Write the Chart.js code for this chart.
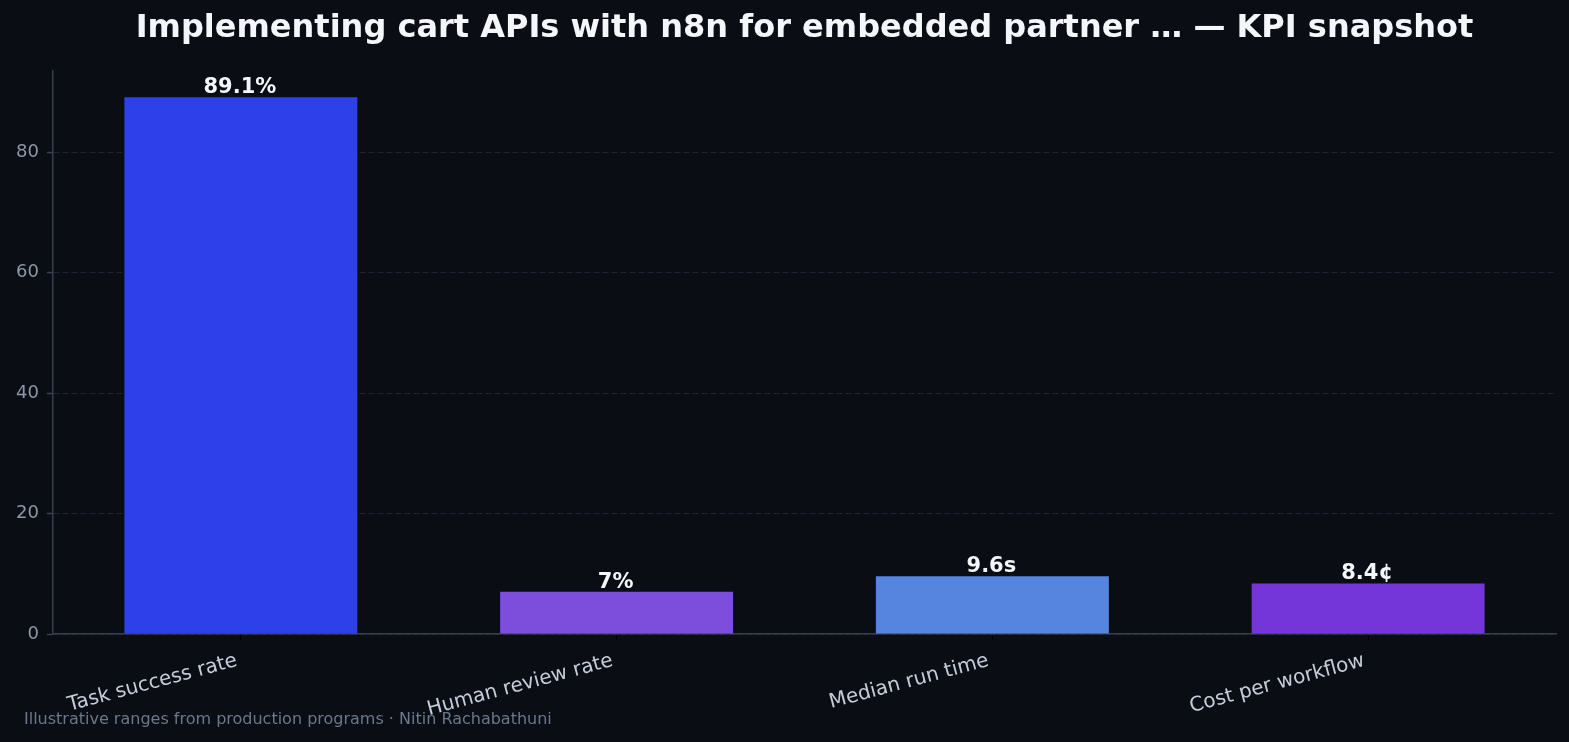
<!DOCTYPE html>
<html>
<head>
<meta charset="utf-8">
<script src="https://cdn.jsdelivr.net/npm/chart.js@4.4.1/dist/chart.umd.min.js"></script>
<style>
  html, body { margin: 0; padding: 0; background: #0a0d14; }
  #wrap { width: 1569px; height: 742px; }
</style>
</head>
<body>
<div id="wrap"><canvas id="kpiChart" width="1569" height="742"></canvas></div>
<script>
// ===== Data =====
const categories = ["Task success rate", "Human review rate", "Median run time", "Cost per workflow"];
const kpiValues = [89.1, 7, 9.6, 8.4];
const valueLabels = ["89.1%", "7%", "9.6s", "8.4¢"];
const barColors = ["#2e40ea", "#7d4ddb", "#5685e0", "#7436d9"];
const yTickStep = 20;

const FONT = "'DejaVu Sans', sans-serif";

// value labels above each bar
const barLabels = {
    id: 'barLabels',
    afterDatasetsDraw(chart) {
        const ctx = chart.ctx;
        const meta = chart.getDatasetMeta(0);
        ctx.save();
        ctx.font = `bold 21px ${FONT}`;
        ctx.fillStyle = '#f4f6fa';
        ctx.textAlign = 'center';
        ctx.textBaseline = 'alphabetic';
        meta.data.forEach((bar, i) => {
            ctx.fillText(valueLabels[i], bar.x - 1, bar.y - 4);
        });
        ctx.restore();
    }
};

// footer note
const footerNote = {
    id: 'footerNote',
    afterDraw(chart) {
        const ctx = chart.ctx;
        ctx.save();
        ctx.font = `16px ${FONT}`;
        ctx.fillStyle = '#6b778b';
        ctx.textAlign = 'left';
        ctx.textBaseline = 'alphabetic';
        ctx.fillText("Illustrative ranges from production programs · Nitin Rachabathuni", 24, 724);
        ctx.restore();
    }
};

const bgFill = {
    id: 'bgFill',
    beforeDraw(chart) {
        const ctx = chart.ctx;
        ctx.save();
        ctx.fillStyle = '#0a0d14';
        ctx.fillRect(0, 0, chart.width, chart.height);
        ctx.restore();
    }
};

new Chart(document.getElementById('kpiChart'), {
    type: 'bar',
    data: {
        labels: categories,
        datasets: [{
            data: kpiValues,
            backgroundColor: barColors,
            borderWidth: 0,
            barPercentage: 0.62,
            categoryPercentage: 1.0
        }]
    },
    options: {
        responsive: false,
        animation: false,
        layout: { padding: { left: 0, right: 13, top: 0, bottom: 0 } },
        plugins: {
            legend: { display: false },
            tooltip: { enabled: false },
            title: {
                display: true,
                fullSize: false,
                text: "Implementing cart APIs with n8n for embedded partner … — KPI snapshot",
                color: '#f4f6fa',
                font: { family: FONT, size: 32, weight: 'bold', lineHeight: 1.2 },
                padding: { top: 9, bottom: 23 }
            }
        },
        scales: {
            x: {
                offset: true,
                grid: { display: true, offset: false, drawOnChartArea: false, drawTicks: true, tickLength: 6, tickColor: '#000000' },
                border: { display: true, color: '#363e4e', width: 1.5 },
                ticks: {
                    color: '#c6cdda',
                    font: { family: FONT, size: 20 },
                    minRotation: 15,
                    maxRotation: 15,
                    padding: 9,
                    labelOffset: -4,
                    autoSkip: false
                },
                afterFit(scale) { scale.height = 108; }
            },
            y: {
                min: 0,
                max: Math.max(...kpiValues) * 1.05,
                grid: { color: '#1f2536', lineWidth: 1, tickLength: 6, tickColor: '#3a4252', tickWidth: 1.5 },
                border: { display: true, color: '#363e4e', width: 1.5, dash: [6, 3] },
                ticks: {
                    stepSize: yTickStep,
                    includeBounds: false,
                    color: '#8d97a8',
                    font: { family: FONT, size: 18 },
                    padding: 8
                },
                afterFit(scale) { scale.width = 53; }
            }
        }
    },
    plugins: [bgFill, barLabels, footerNote]
});
</script>
</body>
</html>
